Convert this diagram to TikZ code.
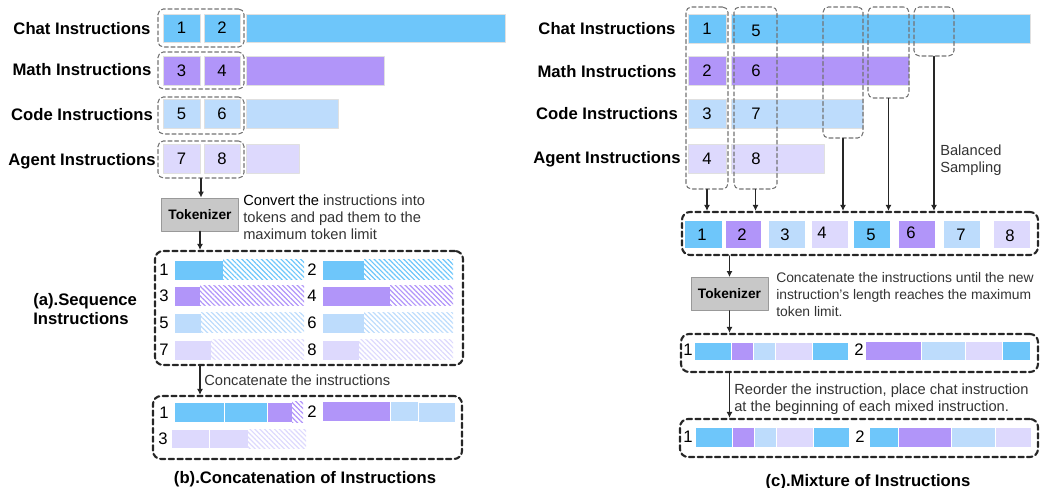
\documentclass[tikz,border=0pt]{standalone}
\usepackage{fontspec}
\setmainfont{Liberation Sans}
\usepackage{xcolor}
\usetikzlibrary{arrows.meta,patterns.meta,fit}
\definecolor{chatc}{HTML}{6EC6FA}
\definecolor{mathc}{HTML}{B195F9}
\definecolor{codec}{HTML}{BDDCFC}
\definecolor{agentc}{HTML}{DDD9FD}
\definecolor{tokc}{HTML}{C8C8C8}

\begin{document}
\begin{tikzpicture}[x=0.75pt,y=-0.75pt,line cap=round,line join=round,
  lab/.style={font=\bfseries\fontsize{12.5}{14.25}\selectfont,align=left,inner sep=0pt},
  num/.style={font=\fontsize{12.5}{14}\selectfont,inner sep=0pt},
  note/.style={font=\fontsize{11}{12.75}\selectfont,align=left,anchor=north west,inner sep=0pt,text=black!80},
  bar/.style={draw=black!12,line width=0.4pt},
  seg/.style={draw=white,line width=0.5pt},
  hatch/.style={pattern={Lines[angle=-45,distance=2.6pt,line width=0.9pt]},pattern color=#1},
  grayframe/.style={draw=black!55,dash pattern=on 3pt off 2pt,line width=0.8pt,rounded corners=4pt,inner sep=0pt},
  blackframe/.style={draw=black!85,dash pattern=on 4pt off 2.5pt,line width=1.6pt,rounded corners=6pt,inner sep=0pt},
  tok/.style={draw=black!40,fill=tokc,minimum width=57.5pt,minimum height=25pt,inner sep=0pt,font=\bfseries\fontsize{10.3}{12}\selectfont},
  flow/.style={-{Latex[length=4.5pt,width=4.5pt]},line width=1.1pt,black!85}]
\useasboundingbox (0,0) rectangle (1043,488);

% ---------- left: sequence instructions ----------
\node[lab,anchor=base] (lchat) at (82,35) {Chat Instructions};
\node[lab,anchor=base] (lmath) at (82,76) {Math Instructions};
\node[lab,anchor=base] (lcode) at (82,121) {Code Instructions};
\node[lab,anchor=base] (lagent) at (82,166) {Agent Instructions};

\draw[bar,fill=chatc] (163,14) rectangle (200,42) node[num,pos=.5] (a1) {1};
\draw[bar,fill=chatc] (204,14) rectangle (240,42) node[num,pos=.5] (a2) {2};
\draw[bar,fill=chatc] (246,14) rectangle (505,42);
\draw[bar,fill=mathc] (163,56) rectangle (200,85) node[num,pos=.5] (a3) {3};
\draw[bar,fill=mathc] (204,56) rectangle (240,85) node[num,pos=.5] (a4) {4};
\draw[bar,fill=mathc] (246,56) rectangle (384,85);
\draw[bar,fill=codec] (163,99) rectangle (200,128) node[num,pos=.5] (a5) {5};
\draw[bar,fill=codec] (204,99) rectangle (240,128) node[num,pos=.5] (a6) {6};
\draw[bar,fill=codec] (246,99) rectangle (338,128);
\draw[bar,fill=agentc] (163,144) rectangle (200,173) node[num,pos=.5] (a7) {7};
\draw[bar,fill=agentc] (204,144) rectangle (240,173) node[num,pos=.5] (a8) {8};
\draw[bar,fill=agentc] (246,144) rectangle (299,173);

\node[grayframe,fit={(158,9) (244,47)}] (fa1) {};
\node[grayframe,fit={(158,52) (244,89)}] (fa2) {};
\node[grayframe,fit={(158,97) (244,134)}] (fa3) {};
\node[grayframe,fit={(158,141) (244,178)}] (fa4) {};

\node[tok] (tokA) at (200,214.5) {Tokenizer};
\node[note] (noteA) at (243,195) {{\color{black}Convert the} instructions into\\tokens and pad them to the\\maximum token limit};

\node[blackframe,fit={(155,251) (463,365)}] (seqA) {};
\draw[flow] (fa4.south) -- (fa4.south |- tokA.north);
\draw[flow] (tokA.south) -- (tokA.south |- seqA.north);

\node[lab,anchor=north west] (tseq) at (33,293) {(a).Sequence\\Instructions};

\node[num,anchor=base] (r1) at (164,276) {1};
\draw[seg,fill=chatc] (174,260) rectangle (223,280);
\fill[hatch=chatc] (223,260) rectangle (304,280);
\node[num,anchor=base] (r2) at (312,276) {2};
\draw[seg,fill=chatc] (322,260) rectangle (364,280);
\fill[hatch=chatc] (364,260) rectangle (453,280);
\node[num,anchor=base] (r3) at (164,302) {3};
\draw[seg,fill=mathc] (174,286) rectangle (200,306);
\fill[hatch=mathc] (200,286) rectangle (304,306);
\node[num,anchor=base] (r4) at (312,302) {4};
\draw[seg,fill=mathc] (322,286) rectangle (390,306);
\fill[hatch=mathc] (390,286) rectangle (453,306);
\node[num,anchor=base] (r5) at (164,329) {5};
\draw[seg,fill=codec] (174,313) rectangle (201,333);
\fill[hatch=codec] (201,313) rectangle (304,333);
\node[num,anchor=base] (r6) at (312,329) {6};
\draw[seg,fill=codec] (322,313) rectangle (364,333);
\fill[hatch=codec] (364,313) rectangle (453,333);
\node[num,anchor=base] (r7) at (164,356) {7};
\draw[seg,fill=agentc] (174,340) rectangle (211,360);
\fill[hatch=agentc] (211,340) rectangle (304,360);
\node[num,anchor=base] (r8) at (312,356) {8};
\draw[seg,fill=agentc] (322,340) rectangle (359,360);
\fill[hatch=agentc] (359,340) rectangle (453,360);

% ---------- left: concatenation ----------
\node[blackframe,fit={(153,396) (462,459)}] (catB) {};
\draw[flow] (seqA.south -| tokA.south) -- (tokA.south |- catB.north);
\node[note] (noteB) at (204,375) {Concatenate the instructions};

\node[num,anchor=base] (b1) at (164,418) {1};
\draw[seg,fill=chatc] (174,402) rectangle (224,422);
\draw[seg,fill=chatc] (224,402) rectangle (267,422);
\draw[seg,fill=mathc] (267,402) rectangle (292,422);
\fill[hatch=mathc] (292,402) rectangle (303,422);
\node[num,anchor=base] (b2) at (312,417) {2};
\draw[seg,fill=mathc] (322,401) rectangle (390,421);
\draw[seg,fill=codec] (390,401) rectangle (418,421);
\draw[seg,fill=codec] (418,402) rectangle (455,422);
\node[num,anchor=base] (b3) at (163,444) {3};
\draw[seg,fill=agentc] (171,429) rectangle (209,448);
\draw[seg,fill=agentc] (209,429) rectangle (248,448);
\fill[hatch=agentc] (248,429) rectangle (306,448);

\node[lab,anchor=base] (tcat) at (305,483) {(b).Concatenation of Instructions};

% ---------- right: mixture ----------
\node[lab,anchor=base] (mchat) at (607,35) {Chat Instructions};
\node[lab,anchor=base] (mmath) at (607,78) {Math Instructions};
\node[lab,anchor=base] (mcode) at (607,120) {Code Instructions};
\node[lab,anchor=base] (magent) at (607,164) {Agent Instructions};

\draw[bar,fill=chatc] (688,14) rectangle (726,43) node[num,pos=.5] (m1) {1};
\draw[bar,fill=chatc] (731,14) rectangle (1030,43);
\node[num] (m5) at (756,31) {5};
\draw[bar,fill=mathc] (688,56) rectangle (726,85) node[num,pos=.5] (m2) {2};
\draw[bar,fill=mathc] (731,56) rectangle (909,85);
\node[num] (m6) at (756,71) {6};
\draw[bar,fill=codec] (688,99) rectangle (726,128) node[num,pos=.5] (m3) {3};
\draw[bar,fill=codec] (731,99) rectangle (863,128);
\node[num] (m7) at (756,114) {7};
\draw[bar,fill=agentc] (688,144) rectangle (726,173) node[num,pos=.5] (m4) {4};
\draw[bar,fill=agentc] (731,144) rectangle (824,173);
\node[num] (m8) at (756,159) {8};

\node[grayframe,fit={(686,7) (728,189)}] (fr1) {};
\node[grayframe,fit={(734,7) (777,189)}] (fr2) {};
\node[grayframe,fit={(823,7) (863,138)}] (fr3) {};
\node[grayframe,fit={(868,7) (909,98)}] (fr4) {};
\node[grayframe,fit={(914,7) (954,56)}] (fr5) {};

\node[note] (noteS) at (940,145) {Balanced\\Sampling};

\node[blackframe,fit={(682,212) (1038,255)}] (mixA) {};
\draw[flow] (fr1.south) -- (fr1.south |- mixA.north);
\draw[flow] (fr2.south) -- (fr2.south |- mixA.north);
\draw[flow] (fr3.south) -- (fr3.south |- mixA.north);
\draw[flow] (fr4.south) -- (fr4.south |- mixA.north);
\draw[flow] (fr5.south) -- (fr5.south |- mixA.north);

\draw[seg,fill=chatc] (684,220) rectangle (722,248);
\node[num] (s1) at (702,235) {1};
\draw[seg,fill=mathc] (725,220) rectangle (761,248);
\node[num] (s2) at (742,235) {2};
\draw[seg,fill=codec] (768,220) rectangle (805,248);
\node[num] (s3) at (785,235) {3};
\draw[seg,fill=agentc] (811,220) rectangle (848,248);
\node[num] (s4) at (822,233) {4};
\draw[seg,fill=chatc] (853,220) rectangle (890,248);
\node[num] (s5) at (871,235) {5};
\draw[seg,fill=mathc] (898,220) rectangle (935,248);
\node[num] (s6) at (911,233) {6};
\draw[seg,fill=codec] (943,220) rectangle (980,248);
\node[num] (s7) at (961,235) {7};
\draw[seg,fill=agentc] (993,220) rectangle (1030,248);
\node[num] (s8) at (1010,236) {8};

\node[tok] (tokB) at (729.5,294) {Tokenizer};
\node[note,font=\fontsize{10.4}{12.75}\selectfont] (noteC) at (776,272) {Concatenate the instructions until the new\\instruction's length reaches the maximum\\token limit.};
\node[blackframe,fit={(681,334) (1038,372)}] (mixB) {};
\draw[flow] (mixA.south -| tokB.north) -- (tokB.north);
\draw[flow] (tokB.south) -- (tokB.south |- mixB.north);

\node[num,anchor=base] (c1) at (688,356) {1};
\draw[seg,fill=chatc] (694,342) rectangle (731,360);
\draw[seg,fill=mathc] (731,342) rectangle (753,360);
\draw[seg,fill=codec] (753,342) rectangle (775,360);
\draw[seg,fill=agentc] (775,342) rectangle (812,360);
\draw[seg,fill=chatc] (812,342) rectangle (848,360);
\node[num,anchor=base] (c2) at (859,356) {2};
\draw[seg,fill=mathc] (865,341) rectangle (921,360);
\draw[seg,fill=codec] (921,341) rectangle (965,360);
\draw[seg,fill=agentc] (965,341) rectangle (1002,360);
\draw[seg,fill=chatc] (1002,341) rectangle (1030,360);

\node[blackframe,fit={(680,419) (1038,457)}] (mixC) {};
\draw[flow] (mixB.south -| tokB.south) -- (tokB.south |- mixC.north);
\node[note] (noteD) at (734,384) {Reorder the instruction, place chat instruction\\at the beginning of each mixed instruction.};

\node[num,anchor=base] (d1) at (688,442) {1};
\draw[seg,fill=chatc] (695,427) rectangle (732,447);
\draw[seg,fill=mathc] (732,427) rectangle (754,447);
\draw[seg,fill=codec] (754,427) rectangle (776,447);
\draw[seg,fill=agentc] (776,427) rectangle (813,447);
\draw[seg,fill=chatc] (813,427) rectangle (849,447);
\node[num,anchor=base] (d2) at (860,442) {2};
\draw[seg,fill=chatc] (869,427) rectangle (898,447);
\draw[seg,fill=mathc] (898,427) rectangle (951,447);
\draw[seg,fill=codec] (951,427) rectangle (995,447);
\draw[seg,fill=agentc] (995,427) rectangle (1031,447);

\node[lab,anchor=base] (tmix) at (868,486) {(c).Mixture of Instructions};
\end{tikzpicture}
\end{document}
